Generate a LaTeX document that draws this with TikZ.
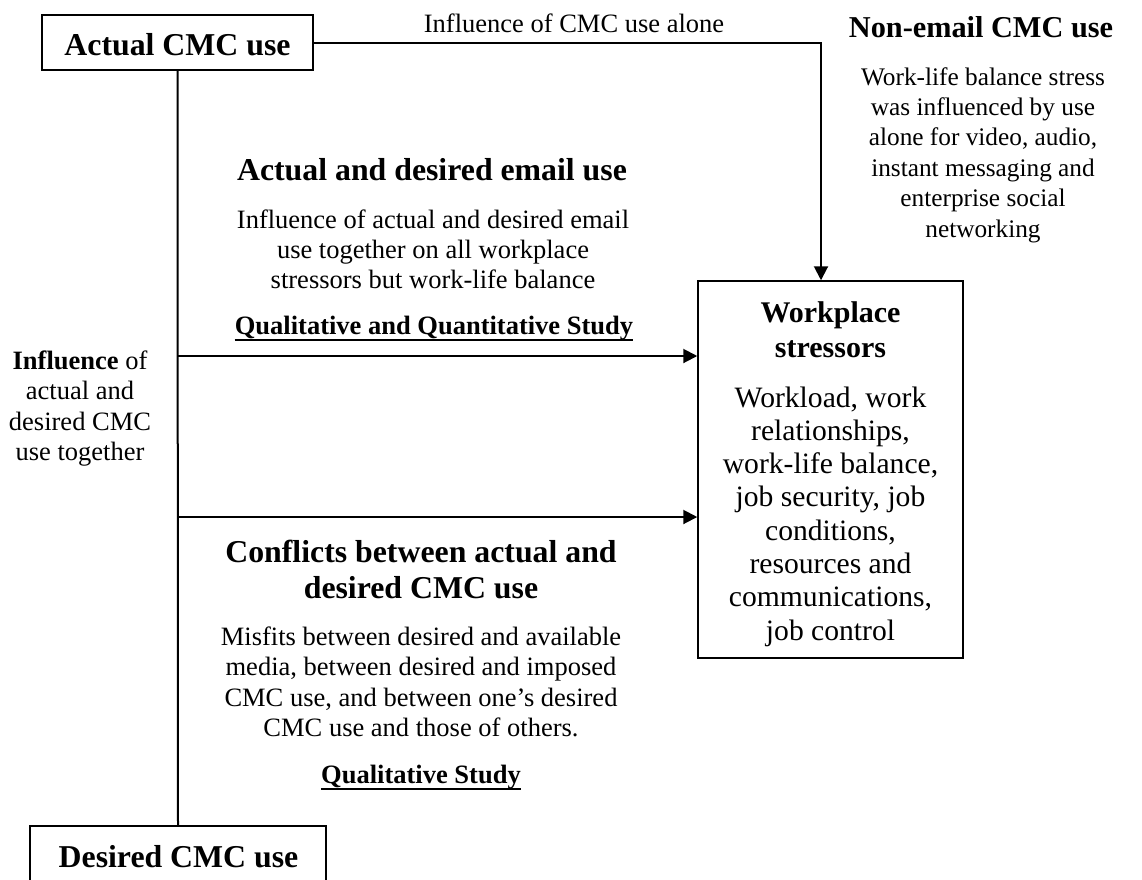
\documentclass[tikz,border=0pt]{standalone}
\usepackage{fontspec}
\setmainfont{Liberation Serif}
\usetikzlibrary{arrows.meta}
\begin{document}
\begin{tikzpicture}[x=1pt,y=-1pt,
  box/.style={draw,line width=1.5pt,inner sep=0,rectangle},
  txt/.style={inner sep=0,anchor=base},
  body/.style={txt,font=\fontsize{26.5}{30}\selectfont},
  ttl/.style={txt,font=\fontsize{31.8}{36}\selectfont\bfseries},
  nebody/.style={txt,font=\fontsize{25.3}{30}\selectfont},
  wsbody/.style={txt,font=\fontsize{29.6}{33}\selectfont},
  wsttl/.style={txt,font=\fontsize{30}{34}\selectfont\bfseries},
  stud/.style={txt,font=\fontsize{26.5}{30}\selectfont\bfseries},
  uline/.style={line width=1.8pt},
  conn/.style={line width=2pt},
  arr/.style={conn,-{Triangle[length=14pt,width=14pt]}}]
\useasboundingbox (0,0) rectangle (1142,879);
% boxes
\node[box,minimum width=271pt,minimum height=55pt] (actual) at (177.5,42.5) {};
\node[box,minimum width=265pt,minimum height=377pt] (ws) at (830.5,469.5) {};
\node[box,minimum width=296pt,minimum height=74pt] (desired) at (178,863) {};
% box texts
\node[ttl] (actualT) at (177.5,55) {Actual CMC use};
\node[ttl] (desiredT) at (178.5,867) {Desired CMC use};
\node[wsttl] (wsT1) at (830.5,322) {Workplace};
\node[wsttl] (wsT2) at (830.5,357) {stressors};
\node[wsbody] (ws1) at (830.5,407) {Workload, work};
\node[wsbody] (ws2) at (830.5,440.3) {relationships,};
\node[wsbody] (ws3) at (830.5,473.6) {work-life balance,};
\node[wsbody] (ws4) at (830.5,506.9) {job security, job};
\node[wsbody] (ws5) at (830.5,540.2) {conditions,};
\node[wsbody] (ws6) at (830.5,573.5) {resources and};
\node[wsbody] (ws7) at (830.5,606.8) {communications,};
\node[wsbody] (ws8) at (830.5,640.1) {job control};
% top label
\node[body] (alone) at (574,32) {Influence of CMC use alone};
% non-email
\node[txt,font=\fontsize{30.3}{34}\selectfont\bfseries] (neT) at (981,37) {Non-email CMC use};
\node[nebody] (ne1) at (983,85) {Work-life balance stress};
\node[nebody] (ne2) at (983,115.4) {was influenced by use};
\node[nebody] (ne3) at (983,145.8) {alone for video, audio,};
\node[nebody] (ne4) at (983,176.2) {instant messaging and};
\node[nebody] (ne5) at (983,206.6) {enterprise social};
\node[nebody] (ne6) at (983,237) {networking};
% email
\node[ttl] (emT) at (432,180) {Actual and desired email use};
\node[body] (em1) at (433,228) {Influence of actual and desired email};
\node[body] (em2) at (433,258) {use together on all workplace};
\node[body] (em3) at (433,288) {stressors but work-life balance};
\node[stud] (qq) at (434,334) {Qualitative and Quantitative Study};
\draw[uline] ([yshift=-6pt]qq.base west) -- ([yshift=-6pt]qq.base east);
% left label
\node[body] (l1) at (80,369) {\textbf{Influence} of};
\node[body] (l2) at (80,399.5) {actual and};
\node[body] (l3) at (80,430) {desired CMC};
\node[body] (l4) at (80,460.5) {use together};
% conflicts
\node[ttl] (cT1) at (421,562) {Conflicts between actual and};
\node[ttl] (cT2) at (421,598) {desired CMC use};
\node[body] (c1) at (421,645) {Misfits between desired and available};
\node[body] (c2) at (421,675.5) {media, between desired and imposed};
\node[body] (c3) at (421,706) {CMC use, and between one’s desired};
\node[body] (c4) at (421,736.5) {CMC use and those of others.};
\node[stud] (qs) at (421,783) {Qualitative Study};
\draw[uline] ([yshift=-6pt]qs.base west) -- ([yshift=-6pt]qs.base east);
% connectors
\coordinate (corner) at (821,42.5);
\coordinate (j1) at (178,356);
\coordinate (j2) at (178,517);
\draw[conn] (actual.south) -- (desired.north);
\draw[arr] (actual.east) -- (corner) -- (corner |- ws.north);
\draw[arr] (j1) -- (j1 -| ws.west);
\draw[arr] (j2) -- (j2 -| ws.west);
\end{tikzpicture}
\end{document}
